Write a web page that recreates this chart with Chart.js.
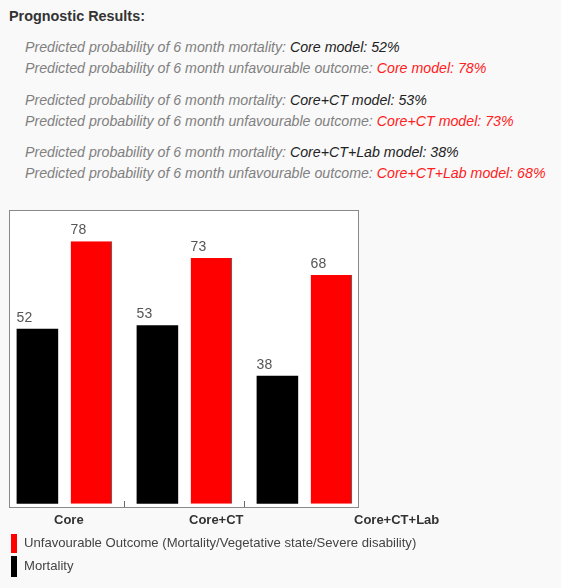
<!DOCTYPE html>
<html>
<head>
<meta charset="utf-8">
<script src="https://cdn.jsdelivr.net/npm/chart.js@4/dist/chart.umd.min.js"></script>
<style>
  body { margin: 0; background: #f9f9f9; font-family: "Liberation Sans", Arial, sans-serif; }
  .abs { position: absolute; white-space: nowrap; }
  #title { left: 9px; top: 8px; font-size: 14.4px; line-height: 16px; font-weight: bold; color: #333; }
  .line { left: 25px; font-size: 14.2px; line-height: 16px; font-style: italic; color: #808080; }
  .line .v { color: #222; }
  .line .r { color: #ff2020; }
  #box { left: 9px; top: 210px; width: 350px; height: 298px; box-sizing: border-box;
         border: 1px solid #888; background: #fff; }
  #wrap { left: 0; top: 200px; width: 561px; height: 320px; }
  .xl { top: 512px; font-size: 13px; font-weight: bold; color: #333; }
  .sw { left: 11px; width: 6px; }
  .lg { left: 24px; font-size: 13.1px; color: #444; }
</style>
</head>
<body>
<div id="title" class="abs">Prognostic Results:</div>
<div id="lines"></div>
<div id="box" class="abs"></div>
<div id="wrap" class="abs"><canvas id="myChart"></canvas></div>
<div id="xlabels"></div>
<div id="legend"></div>
<script>
var models = ['Core', 'Core+CT', 'Core+CT+Lab'];
var mortality = [52, 53, 38];
var unfavourable = [78, 73, 68];
var seriesNames = ['Mortality', 'Unfavourable Outcome (Mortality/Vegetative state/Severe disability)'];
var seriesColors = ['#000000', '#ff0000'];

// text block above the chart
var tops = [39, 60, 92, 113, 144, 165];
var html = '';
for (var i = 0; i < models.length; i++) {
    html += '<div class="abs line" style="top:' + tops[i * 2] + 'px">Predicted probability of 6 month mortality: ' +
        '<span class="v">' + models[i] + ' model: ' + mortality[i] + '%</span></div>';
    html += '<div class="abs line" style="top:' + tops[i * 2 + 1] + 'px">Predicted probability of 6 month unfavourable outcome: ' +
        '<span class="r">' + models[i] + ' model: ' + unfavourable[i] + '%</span></div>';
}
document.getElementById('lines').innerHTML = html;

// category labels (sit oddly offset in the original)
var xl = [54, 189, 354];
html = '';
for (var i = 0; i < models.length; i++) {
    html += '<div class="abs xl" style="left:' + xl[i] + 'px">' + models[i] + '</div>';
}
document.getElementById('xlabels').innerHTML = html;

// legend, red first
html = '<div class="abs sw" style="top:534px;height:19px;background:' + seriesColors[1] + '"></div>' +
    '<div class="abs lg" style="top:535px">' + seriesNames[1] + '</div>' +
    '<div class="abs sw" style="top:556px;height:21px;background:' + seriesColors[0] + '"></div>' +
    '<div class="abs lg" style="top:558px">' + seriesNames[0] + '</div>';
document.getElementById('legend').innerHTML = html;

var valueLabels = {
    id: 'valueLabels',
    afterDatasetsDraw: function(chart) {
        var ctx = chart.ctx;
        ctx.save();
        ctx.font = '14px "Liberation Sans", Arial, sans-serif';
        ctx.fillStyle = '#555';
        ctx.textAlign = 'left';
        ctx.textBaseline = 'bottom';
        chart.data.datasets.forEach(function(ds, di) {
            chart.getDatasetMeta(di).data.forEach(function(bar, i) {
                ctx.fillText(ds.data[i], bar.x - bar.width / 2, bar.y - 4);
            });
        });
        // small marks between the groups
        var xs = chart.scales.x;
        ctx.strokeStyle = '#666';
        ctx.lineWidth = 1;
        for (var i = 0; i < models.length - 1; i++) {
            var x = Math.round((xs.getPixelForValue(i) + xs.getPixelForValue(i + 1)) / 2) + 0.5;
            ctx.beginPath();
            ctx.moveTo(x, chart.chartArea.bottom);
            ctx.lineTo(x, chart.chartArea.bottom - 6);
            ctx.stroke();
        }
        ctx.restore();
    }
};

var ctx = document.getElementById('myChart');
var myChart = new Chart(ctx, {
    type: 'bar',
    data: {
        labels: models,
        datasets: [{
            label: seriesNames[0],
            data: mortality,
            backgroundColor: seriesColors[0],
            categoryPercentage: 0.9,
            barPercentage: 0.77
        }, {
            label: seriesNames[1],
            data: unfavourable,
            backgroundColor: seriesColors[1],
            borderColor: '#444',
            borderWidth: { right: 1 },
            borderSkipped: false,
            categoryPercentage: 0.9,
            barPercentage: 0.77
        }]
    },
    options: {
        responsive: true,
        maintainAspectRatio: false,
        animation: false,
        layout: { padding: { left: 4.4, right: 196.6, top: 11, bottom: 13 } },
        plugins: { legend: { display: false }, tooltip: { enabled: false } },
        scales: {
            x: { display: false },
            y: { display: false, min: -1, max: 87 }
        }
    },
    plugins: [valueLabels]
});
</script>
</body>
</html>
